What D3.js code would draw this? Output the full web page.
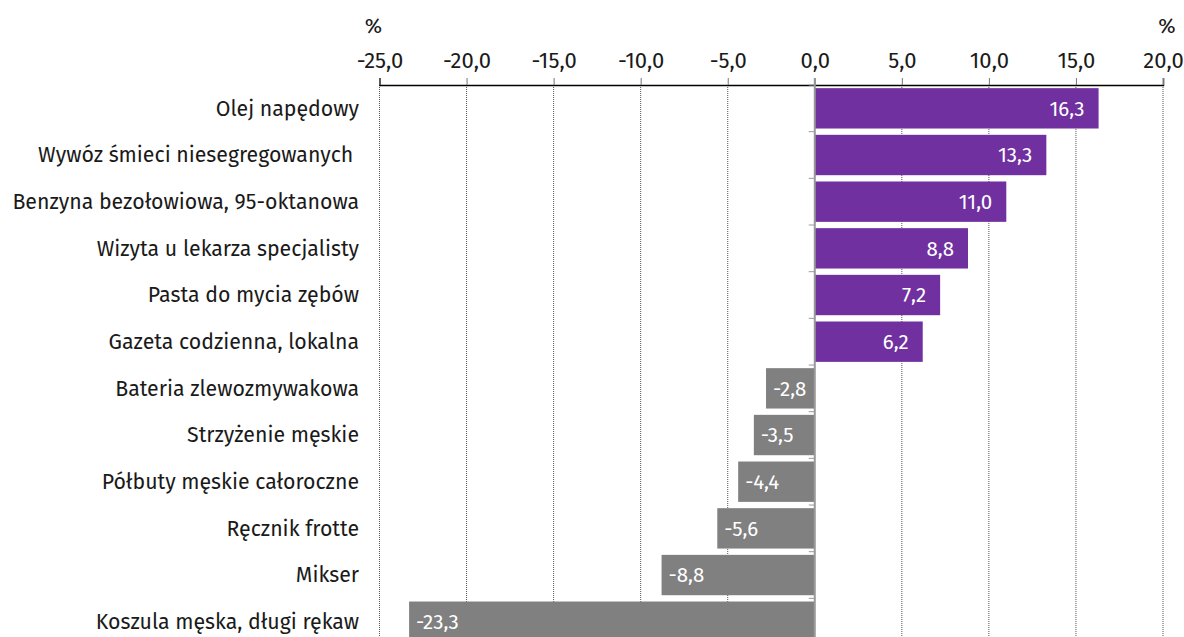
<!DOCTYPE html>
<html>
<head>
<meta charset="utf-8">
<script src="https://cdn.jsdelivr.net/npm/d3@7"></script>
<style>
	body { margin: 0; background: #fff; }
	svg text { font-family: "Fira Sans", "Open Sans", sans-serif; }
</style>
</head>
<body>
<div id="chart"></div>
<script>
var categories = [
	'Olej napędowy',
	'Wywóz śmieci niesegregowanych ',
	'Benzyna bezołowiowa, 95-oktanowa',
	'Wizyta u lekarza specjalisty',
	'Pasta do mycia zębów',
	'Gazeta codzienna, lokalna',
	'Bateria zlewozmywakowa',
	'Strzyżenie męskie',
	'Półbuty męskie całoroczne',
	'Ręcznik frotte',
	'Mikser',
	'Koszula męska, długi rękaw'
]
var values = [16.3, 13.3, 11.0, 8.8, 7.2, 6.2, -2.8, -3.5, -4.4, -5.6, -8.8, -23.3]
var tickValues = [-25, -20, -15, -10, -5, 0, 5, 10, 15, 20]

var width = 1184,
	height = 637,
	plotTop = 85,
	step = 46.67

var fmt = function(v) { return d3.format('.1f')(v).replace('.', ',').replace('−', '-') }

var svg = d3.select('#chart').append('svg')
	.attr('width', width)
	.attr('height', height)

var x = d3.scaleLinear().domain([-25, 20]).range([379.5, 1163])
var y = d3.scaleBand().domain(categories)
	.range([plotTop, plotTop + step * categories.length])
	.paddingInner(0.135).paddingOuter(0.0675)

// dotted gridlines
svg.append('g').selectAll('line')
	.data(tickValues.filter(function(d) { return d !== 0 }))
	.enter().append('line')
	.attr('x1', function(d) { return x(d) })
	.attr('x2', function(d) { return x(d) })
	.attr('y1', plotTop).attr('y2', height)
	.attr('stroke', '#555')
	.attr('stroke-dasharray', '1,1')

// top axis
var axis = svg.append('g')
	.attr('transform', 'translate(0,' + plotTop + ')')
	.call(d3.axisTop(x).tickValues(tickValues).tickFormat(fmt).tickSize(7).tickPadding(10))
axis.select('.domain').attr('stroke', '#000').attr('stroke-width', 1.5)
axis.selectAll('.tick line').attr('stroke', '#777')
axis.selectAll('.tick text').attr('font-size', 22).attr('fill', '#1a1a1a')
	.style('font-family', '"Fira Sans", "Open Sans", sans-serif')

// % units
svg.append('text').attr('x', x(-25) - 6).attr('y', 33).attr('text-anchor', 'middle')
	.attr('font-size', 21).attr('fill', '#1a1a1a').text('%')
svg.append('text').attr('x', x(20) + 4).attr('y', 33).attr('text-anchor', 'middle')
	.attr('font-size', 21).attr('fill', '#1a1a1a').text('%')

// bars
svg.append('g').selectAll('rect')
	.data(values)
	.enter().append('rect')
	.attr('x', function(d) { return x(Math.min(0, d)) })
	.attr('y', function(d, i) { return y(categories[i]) })
	.attr('width', function(d) { return Math.abs(x(d) - x(0)) })
	.attr('height', y.bandwidth())
	.attr('fill', function(d) { return d > 0 ? '#7030a0' : '#808080' })

// value labels
svg.append('g').selectAll('text')
	.data(values)
	.enter().append('text')
	.attr('x', function(d) { return d > 0 ? x(d) - 14 : x(d) + 7 })
	.attr('y', function(d, i) { return y(categories[i]) + y.bandwidth() / 2 })
	.attr('dy', '0.35em')
	.attr('text-anchor', function(d) { return d > 0 ? 'end' : 'start' })
	.attr('font-size', 20.5)
	.attr('fill', '#fff')
	.text(fmt)

// zero line with band ticks
var zero = svg.append('g')
zero.selectAll('line.bt')
	.data(d3.range(categories.length + 1))
	.enter().append('line')
	.attr('x1', x(0) - 6).attr('x2', x(0))
	.attr('y1', function(i) { return plotTop + i * step })
	.attr('y2', function(i) { return plotTop + i * step })
	.attr('stroke', '#999')
zero.append('line')
	.attr('x1', x(0)).attr('x2', x(0))
	.attr('y1', plotTop - 7).attr('y2', height)
	.attr('stroke', '#999').attr('stroke-width', 2)

// category labels
svg.append('g').selectAll('text')
	.data(categories)
	.enter().append('text')
	.attr('x', 359)
	.attr('y', function(d) { return y(d) + y.bandwidth() / 2 })
	.attr('dy', '0.35em')
	.attr('text-anchor', 'end')
	.attr('font-size', 21.3)
	.attr('fill', '#1a1a1a')
	.style('white-space', 'pre')
	.text(function(d) { return d })
</script>
</body>
</html>
